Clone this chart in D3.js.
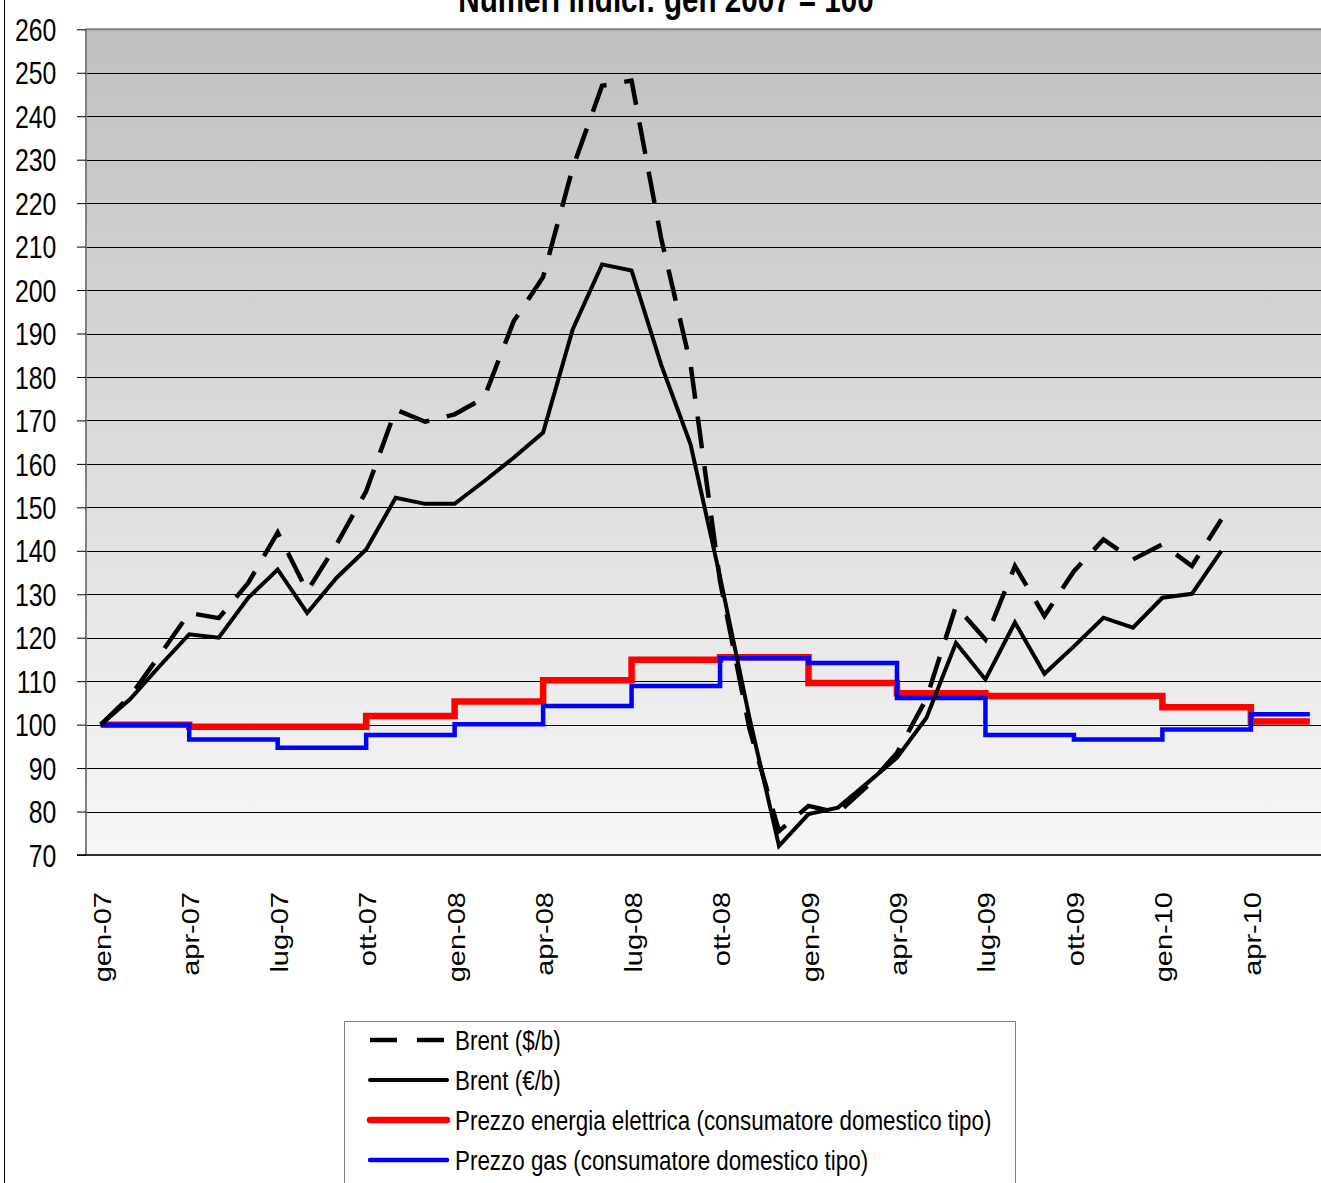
<!DOCTYPE html>
<html>
<head>
<meta charset="utf-8">
<script src="https://cdn.jsdelivr.net/npm/d3@7"></script>
<style>
  body { margin: 0; background: #ffffff; }
  svg { display: block; font-family: "Liberation Sans", Arial, sans-serif; }
</style>
</head>
<body>
<svg id="chart" width="1321" height="1183"></svg>
<script>
// ---------------- DATA ----------------
const chartTitle = "Numeri indici: gen 2007 = 100";

const months = [
  "gen-07","feb-07","mar-07","apr-07","mag-07","giu-07","lug-07","ago-07","set-07","ott-07","nov-07","dic-07",
  "gen-08","feb-08","mar-08","apr-08","mag-08","giu-08","lug-08","ago-08","set-08","ott-08","nov-08","dic-08",
  "gen-09","feb-09","mar-09","apr-09","mag-09","giu-09","lug-09","ago-09","set-09","ott-09","nov-09","dic-09",
  "gen-10","feb-10","mar-10","apr-10","mag-10","giu-10"
];

// Brent in $/barrel, index gen-07 = 100 (gen-07 .. mar-10)
const brentUsd = [
  100, 106.5, 116, 125.7, 124.5, 132.6, 144.2, 130.7, 141.5, 153.7, 172.5, 169.7,
  171.4, 175.2, 192.8, 203, 228, 247, 248.2, 212, 182.9, 133, 99, 75.5,
  81.3, 79.7, 85.9, 93.5, 106, 127.3, 119.6, 136.5, 125, 135.3, 142.6, 138,
  141.5, 136.5, 147.2
];

// Brent in €/barrel, index gen-07 = 100 (gen-07 .. mar-10)
const brentEur = [
  100, 105.9, 113.5, 120.8, 120, 129.2, 135.7, 125.7, 133.8, 140.3, 152.2, 150.8,
  150.8, 156, 161.4, 167.2, 190.9, 205.9, 204.5, 182.9, 164.5, 134, 101.5, 72.1,
  79.4, 80.9, 86.6, 92.4, 101.6, 118.8, 110.4, 123.5, 111.7, 118, 124.6, 122.3,
  129.2, 130.1, 140
];

// Quarterly tariffs (value valid from the quarter's first month)
const quarterStarts = [
  "gen-07","apr-07","lug-07","ott-07","gen-08","apr-08","lug-08","ott-08",
  "gen-09","apr-09","lug-09","ott-09","gen-10","apr-10"
];
const elecPrice = [100, 99.5, 99.5, 102, 105.3, 110.2, 114.9, 115.5, 109.6, 107.2, 106.6, 106.6, 104, 100.7];
const gasPrice  = [100, 96.6, 94.7, 97.6, 100.1, 104.3, 108.9, 115.3, 114.2, 106.1, 97.6, 96.6, 98.9, 102.4];
const stepEnd = "giu-10";

const yTickValues = [70, 80, 90, 100, 110, 120, 130, 140, 150, 160, 170, 180, 190, 200, 210, 220, 230, 240, 250, 260];
const xTickLabels = ["gen-07","apr-07","lug-07","ott-07","gen-08","apr-08","lug-08","ott-08","gen-09","apr-09","lug-09","ott-09","gen-10","apr-10"];

const legendNames = [
  "Brent ($/b)",
  "Brent (\u20AC/b)",
  "Prezzo energia elettrica (consumatore domestico tipo)",
  "Prezzo gas (consumatore domestico tipo)"
];

// ---------------- LAYOUT ----------------
const SX = 0.8;               // horizontal text compression
const plotL = 86, plotT = 29.3, plotB = 855;
const monthW = 29.49;
const plotR = plotL + months.length * monthW;

const svg = d3.select("#chart");

// outer frame (left edge visible)
svg.append("line").attr("x1", 4.5).attr("x2", 4.5).attr("y1", 0).attr("y2", 1183)
  .attr("stroke", "#000").attr("stroke-width", 1);

const x = d3.scaleBand().domain(months).range([plotL, plotR]).padding(0);
const cx = m => x(m) + x.bandwidth() / 2;
const y = d3.scaleLinear().domain([70, 260]).range([plotB, plotT]);

// background gradient
const defs = svg.append("defs");
const grad = defs.append("linearGradient").attr("id", "bg").attr("x1", 0).attr("y1", 0).attr("x2", 0).attr("y2", 1);
grad.append("stop").attr("offset", "0%").attr("stop-color", "#c0c0c0");
grad.append("stop").attr("offset", "100%").attr("stop-color", "#f7f7f7");

svg.append("rect").attr("x", plotL).attr("y", plotT).attr("width", plotR - plotL).attr("height", plotB - plotT)
  .attr("fill", "url(#bg)");

// gridlines
svg.append("g").selectAll("line").data(yTickValues.filter(v => v > 70 && v < 260)).join("line")
  .attr("x1", plotL).attr("x2", plotR)
  .attr("y1", d => Math.round(y(d)) + 0.5).attr("y2", d => Math.round(y(d)) + 0.5)
  .attr("stroke", "#000").attr("stroke-width", 1);

// plot border: top, left, bottom
svg.append("line").attr("x1", plotL).attr("x2", plotR).attr("y1", plotT).attr("y2", plotT)
  .attr("stroke", "#808080").attr("stroke-width", 2);
svg.append("line").attr("x1", plotL).attr("x2", plotL).attr("y1", plotT).attr("y2", plotB)
  .attr("stroke", "#808080").attr("stroke-width", 2);
svg.append("line").attr("x1", plotL - 9).attr("x2", plotR).attr("y1", plotB).attr("y2", plotB)
  .attr("stroke", "#333", 1).attr("stroke-width", 2);

// y axis
const yAxis = svg.append("g").attr("transform", `translate(${plotL},0)`)
  .call(d3.axisLeft(y).tickValues(yTickValues).tickSize(9).tickPadding(28).tickFormat(d3.format("d")));
yAxis.select(".domain").remove();
yAxis.selectAll(".tick line").attr("stroke", "#000").attr("stroke-width", 1);
yAxis.selectAll(".tick text")
  .attr("font-size", 31).attr("fill", "#000")
  .attr("font-family", "'Liberation Sans', Arial, sans-serif")
  .attr("transform", `scale(${SX},1)`)
  .attr("dy", "0.36em");

// x axis
const xAxis = svg.append("g").attr("transform", `translate(0,${plotB})`)
  .call(d3.axisBottom(x).tickValues(xTickLabels).tickSize(0));
xAxis.select(".domain").remove();
xAxis.selectAll(".tick text")
  .attr("x", null).attr("y", null).attr("dy", null)
  .attr("font-size", 29).attr("fill", "#000")
  .attr("font-family", "'Liberation Sans', Arial, sans-serif")
  .attr("text-anchor", "end")
  .attr("transform", `translate(10,37) rotate(-90) scale(1,${SX})`);

// series
const lineMonthly = d3.line().x((d, i) => cx(months[i])).y(d => y(d));
const stepLine = d3.line().x(d => cx(d.m)).y(d => y(d.v)).curve(d3.curveStepAfter);
const stepPoints = vals => quarterStarts.map((q, i) => ({ m: q, v: vals[i] }))
  .concat([{ m: stepEnd, v: vals[vals.length - 1] }]);

svg.append("path").datum(stepPoints(elecPrice)).attr("d", stepLine)
  .attr("fill", "none").attr("stroke", "#ff0000").attr("stroke-width", 6.5);
svg.append("path").datum(stepPoints(gasPrice)).attr("d", stepLine)
  .attr("fill", "none").attr("stroke", "#0000ff").attr("stroke-width", 4.5);
svg.append("path").datum(brentEur).attr("d", lineMonthly)
  .attr("fill", "none").attr("stroke", "#000").attr("stroke-width", 4).attr("stroke-linejoin", "miter");
svg.append("path").datum(brentUsd).attr("d", lineMonthly)
  .attr("fill", "none").attr("stroke", "#000").attr("stroke-width", 4.5)
  .attr("stroke-dasharray", "32,18");

// title (mostly cut off at top)
svg.append("text").attr("transform", `translate(666,12) scale(${SX},1)`)
  .attr("text-anchor", "middle").attr("font-weight", "bold").attr("font-size", 37)
  .attr("fill", "#000").text(chartTitle);

// legend
const leg = svg.append("g");
leg.append("rect").attr("x", 344.5).attr("y", 1021.5).attr("width", 671).attr("height", 200)
  .attr("fill", "#fff").attr("stroke", "#808080").attr("stroke-width", 1);
const legStyles = [
  { color: "#000", w: 4.5, dash: "27,20", cap: "butt" },
  { color: "#000", w: 4, dash: null, cap: "round" },
  { color: "#ff0000", w: 6.5, dash: null, cap: "round" },
  { color: "#0000ff", w: 4.5, dash: null, cap: "round" }
];
const legRowY = d3.scalePoint().domain(legendNames).range([1040, 1160]);
legendNames.forEach((name, i) => {
  const yy = legRowY(name);
  const s = legStyles[i];
  leg.append("line").attr("x1", 370).attr("x2", 447).attr("y1", yy).attr("y2", yy)
    .attr("stroke", s.color).attr("stroke-width", s.w).attr("stroke-linecap", s.cap)
    .attr("stroke-dasharray", s.dash);
  leg.append("text").attr("transform", `translate(455,${yy}) scale(${SX},1)`)
    .attr("dy", "0.36em").attr("font-size", 28).attr("fill", "#000").text(name);
});
</script>
</body>
</html>
